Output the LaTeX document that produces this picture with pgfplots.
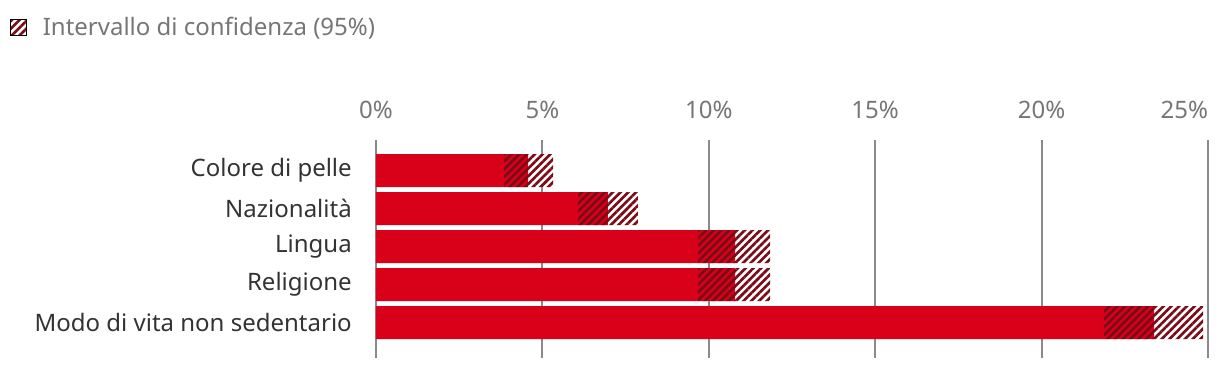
\documentclass[border=0pt]{standalone}
\usepackage{pgfplots}
\pgfplotsset{compat=1.18}
\usepackage{fontspec}
\setmainfont{Noto Sans}
\usetikzlibrary{patterns.meta}
\definecolor{cRed}{HTML}{D9001A}
\definecolor{cDark}{HTML}{7A0C18}
\definecolor{cGrid}{HTML}{8A8A8A}
\definecolor{cTick}{HTML}{767676}
\definecolor{cLab}{HTML}{333333}
\tikzset{hatch/.style={pattern={Lines[angle=45,distance=4.1pt,line width=2.0pt]},pattern color=cDark}}
\begin{document}
\begin{tikzpicture}
\begin{axis}[
  scale only axis,
  width=624pt, height=163.5pt,
  xbar stacked, bar width=24.75pt,
  xmin=0, xmax=25,
  ymin=-0.803, ymax=4.934,
  y dir=reverse,
  xtick={0,5,10,15,20,25},
  xticklabel pos=upper,
  xticklabels={0\%,5\%,10\%,15\%,20\%,\llap{25\%}},
  xticklabel style={font=\fontsize{18pt}{20pt}\selectfont, text=cTick, anchor=base, inner sep=0pt, yshift=16.5pt},
  ytick={0,1,2,3,4},
  yticklabels={Colore di pelle,Nazionalità,Lingua,Religione,Modo di vita non sedentario},
  yticklabel style={font=\fontsize{18pt}{20pt}\selectfont, text=cLab, anchor=east, inner sep=0pt, xshift=-18pt},
  /pgf/number format/assume math mode=true,
  major tick length=0pt,
  axis line style={draw=none},
  xmajorgrids, grid style={draw=cGrid, line width=1.5pt},
  legend style={at={(-0.4399,1.518)}, anchor=west, draw=none, fill=none, inner sep=0pt,
     font=\fontsize{18pt}{20pt}\selectfont, text=cTick, column sep=12pt, nodes={inner sep=0pt}},
  legend cell align=left,
]
\addplot[fill=cRed, draw=none, forget plot] coordinates {(3.85,0) (6.07,1) (9.68,2) (9.68,3) (21.88,4)};
\addplot[fill=cRed, draw=none, postaction={hatch}, forget plot] coordinates {(0.72,0) (0.90,1) (1.11,2) (1.11,3) (1.50,4)};
\addplot[fill=white, draw=none, postaction={hatch}, forget plot] coordinates {(0.75,0) (0.90,1) (1.05,2) (1.05,3) (1.47,4)};
\addlegendimage{legend image code/.code={\path[fill=white] (0pt,-6pt) rectangle (12pt,6pt); \path[hatch] (0pt,-6pt) rectangle (12pt,6pt);}}
\addlegendentry{Intervallo di confidenza (95\%)}
\coordinate (SW) at (axis cs:0,4.934);
\end{axis}
\pgfresetboundingbox
\path[use as bounding box] ([shift={(-282pt,-10.5pt)}]SW) rectangle ([shift={(633pt,268.5pt)}]SW);
\end{tikzpicture}
\end{document}
